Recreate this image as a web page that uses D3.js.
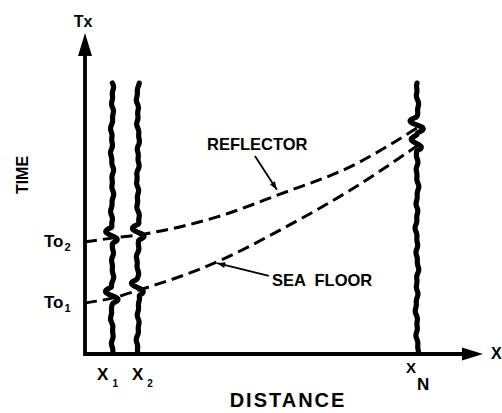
<!DOCTYPE html>
<html>
<head>
<meta charset="utf-8">
<script src="https://cdn.jsdelivr.net/npm/d3@7"></script>
<style>
  body { margin: 0; background: #fff; }
  text { font-family: "Liberation Sans", Arial, sans-serif; fill: #000; }
</style>
</head>
<body>
<svg width="502" height="413"></svg>
<script>
// traces (receiver positions along the line), distance in chart units
var traceNames = ["X", "X", "X"];
var traceSubs = ["1", "2", "N"];
var traceDist = [6.8, 13.3, 83.4];
var traceTop = 84.4;

// picked arrival times
var pickDist = [0, 6.8, 13.3, 33.2, 49, 66.6, 83.4];
var reflectorTime = [34.9, 36.1, 37.1, 42.7, 49.8, 58.3, 70.4];
var seaFloorTime = [15.9, 17.4, 19.8, 28.7, 38.6, 51.0, 64.8];

// zero-offset times shown on the time axis
var tickTimes = [15.9, 34.9];
var tickSubs = ["1", "2"];

var svg = d3.select("svg");

var x = d3.scaleLinear().domain([0, 100]).range([85, 483]);
var y = d3.scaleLinear().domain([0, 100]).range([354, 33]);

var x0 = x(0), y0 = y(0), xEnd = x(100), yEnd = y(100);

// axes with arrow heads
var axes = svg.append("g").attr("id", "axes");
axes.append("path")
    .attr("d", "M" + x0 + "," + (yEnd + 18) + "V" + y0 + "H" + (xEnd - 16))
    .style("fill", "none")
    .style("stroke", "#000")
    .style("stroke-width", 3.8);
axes.append("path")
    .attr("d", "M" + x0 + "," + yEnd + "L" + (x0 - 7) + "," + (yEnd + 23) + "L" + (x0 + 7) + "," + (yEnd + 23) + "Z");
axes.append("path")
    .attr("d", "M" + xEnd + "," + y0 + "L" + (xEnd - 21) + "," + (y0 - 6.5) + "L" + (xEnd - 21) + "," + (y0 + 6.5) + "Z");

// dashed moveout curves
var line = d3.line()
    .curve(d3.curveMonotoneX)
    .x(function(d) { return x(d[0]); })
    .y(function(d) { return y(d[1]); });

[reflectorTime, seaFloorTime].forEach(function(times) {
  svg.append("path")
     .datum(pickDist.map(function(d, i) { return [d, times[i]]; }))
     .attr("d", line)
     .style("fill", "none")
     .style("stroke", "#000")
     .style("stroke-width", 3)
     .style("stroke-dasharray", "12,6");
});

// interpolate a curve at a given distance
function timeAt(times, dist) {
  return d3.scaleLinear().domain(pickDist).range(times)(dist);
}

// wiggle traces with a wavelet at each arrival
var traceLine = d3.line()
    .curve(d3.curveBasis)
    .x(function(d) { return d[0]; })
    .y(function(d) { return d[1]; });

traceDist.forEach(function(dist, k) {
  var cx = x(dist);
  var picks = [timeAt(reflectorTime, dist), timeAt(seaFloorTime, dist)].map(function(t) { return y(t) - 3; });
  var pts = [];
  for (var yy = y(traceTop); yy <= y0; yy += 1) {
    var dx = 0.8 * Math.sin(yy / 4.3 + k) + 0.5 * Math.sin(yy / 1.9 + 2 * k) + 0.6 * Math.sin(yy / 13 + 3 * k);
    picks.forEach(function(p) {
      var u = yy - p;
      if (Math.abs(u) < 8) dx += 6 * Math.sin(Math.PI * u / 8);
    });
    pts.push([cx + dx, yy]);
  }
  svg.append("path")
     .attr("d", traceLine(pts))
     .style("fill", "none")
     .style("stroke", "#000")
     .style("stroke-width", 5.2)
     .style("stroke-linecap", "round");
});

// trace labels (label shift from the trace, px)
var labelShift = [-15, -6, -11];
traceNames.forEach(function(name, i) {
  var big = traceSubs[i] === "N";
  var t = svg.append("text")
     .attr("x", x(traceDist[i]) + labelShift[i])
     .attr("y", big ? 373 : 380)
     .style("font-size", big ? "15px" : "17px")
     .style("font-weight", "bold");
  t.append("tspan").text(name);
  t.append("tspan")
   .attr("dx", big ? 1 : 4)
   .attr("dy", big ? 17 : 7)
   .style("font-size", big ? "17px" : "10px")
   .text(traceSubs[i]);
});

// time axis labels
tickTimes.forEach(function(t, i) {
  var lab = svg.append("text")
     .attr("x", 44)
     .attr("y", y(t) + 5)
     .style("font-size", "17px")
     .style("font-weight", "bold");
  lab.append("tspan").text("To");
  lab.append("tspan")
     .attr("dx", 1)
     .attr("dy", 4)
     .style("font-size", "11px")
     .text(tickSubs[i]);
});

// axis end labels
svg.append("text").attr("x", x0 - 2).attr("y", 27)
   .attr("text-anchor", "middle").style("font-size", "16px").style("font-weight", "bold").text("Tx");
svg.append("text").attr("x", xEnd + 8).attr("y", y0 + 5)
   .style("font-size", "16px").style("font-weight", "bold").text("X");

// axis titles
svg.append("text")
   .attr("transform", "translate(28,175) rotate(-90)")
   .attr("text-anchor", "middle")
   .style("font-size", "16px").style("font-weight", "bold")
   .text("TIME");
svg.append("text")
   .attr("x", 288).attr("y", 407)
   .attr("text-anchor", "middle")
   .style("font-size", "20px").style("font-weight", "bold")
   .style("letter-spacing", "2px")
   .text("DISTANCE");

// curve annotations with leader arrows
function leader(x1, y1, x2, y2) {
  svg.append("line")
     .attr("x1", x1).attr("y1", y1).attr("x2", x2).attr("y2", y2)
     .style("stroke", "#000").style("stroke-width", 1.8);
  var a = Math.atan2(y2 - y1, x2 - x1);
  var L = 8, W = 3;
  var bx = x2 - L * Math.cos(a), by = y2 - L * Math.sin(a);
  svg.append("path")
     .attr("d", "M" + x2 + "," + y2 +
                "L" + (bx - W * Math.sin(a)) + "," + (by + W * Math.cos(a)) +
                "L" + (bx + W * Math.sin(a)) + "," + (by - W * Math.cos(a)) + "Z");
}

svg.append("text").attr("x", 207).attr("y", 150)
   .style("font-size", "16.5px").style("font-weight", "bold")
   .text("REFLECTOR");
leader(x(42.7), y(61.7), x(48.2), y(51.2));

svg.append("text").attr("x", 272).attr("y", 286)
   .style("font-size", "16.5px").style("font-weight", "bold")
   .style("white-space", "pre")
   .text("SEA  FLOOR");
leader(x(46.2), y(24.3), x(33.2), y(28.3));
</script>
</body>
</html>
